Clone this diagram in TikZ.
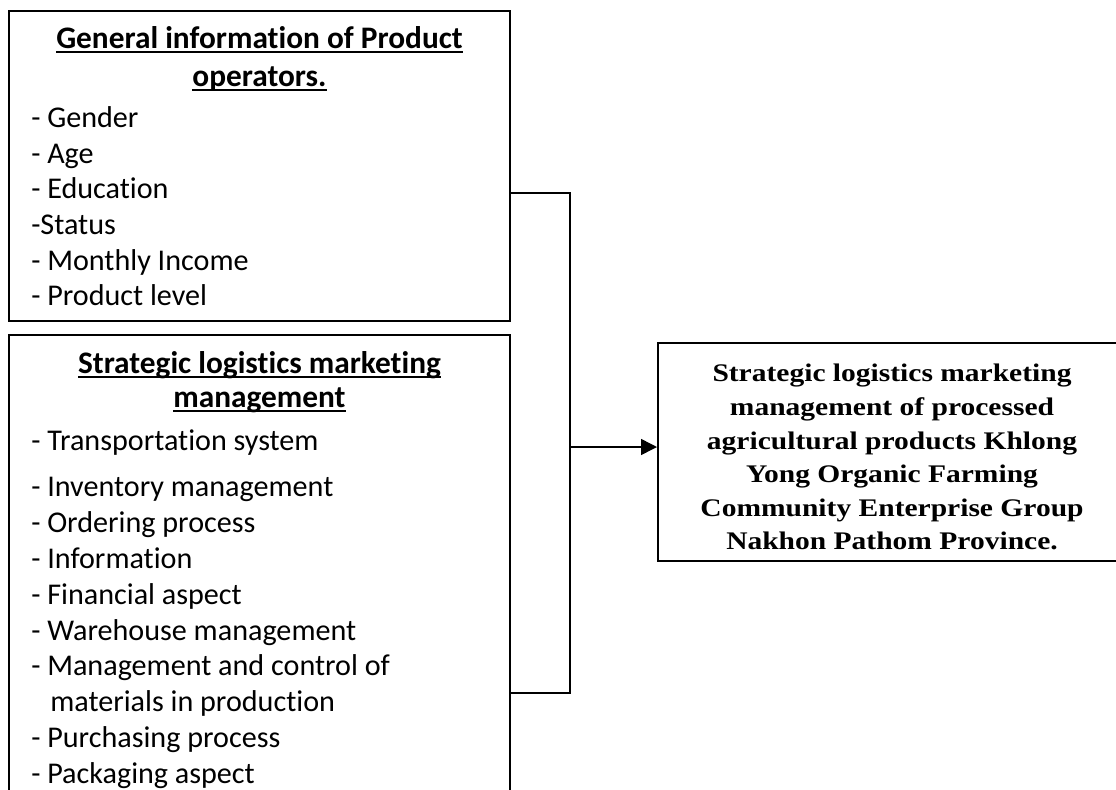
\documentclass[tikz,border=0pt]{standalone}
\usepackage{fontspec}
\setmainfont{Carlito}[Ligatures=NoCommon]
\newfontfamily\resfont[FakeStretch=1.165]{Liberation Serif}
\usetikzlibrary{arrows.meta,fit}

% underlined heading line
\newsavebox{\headbox}
\newcommand{\ulhead}[1]{\sbox{\headbox}{#1}\rlap{\rule[-3.7pt]{\wd\headbox}{1.4pt}}\usebox{\headbox}}

\tikzset{
	pbox/.style={draw, line width=1.5pt, inner sep=0pt},
	head/.style={anchor=base, inner sep=0pt, font=\fontsize{23.5}{27}\selectfont\bfseries},
	item/.style={anchor=base west, inner sep=0pt, font=\fontsize{22.6}{27}\selectfont},
	link/.style={line width=1.1pt},
}

\begin{document}
\begin{tikzpicture}[x=0.75pt,y=-0.75pt]
		\clip (0,0) rectangle (1116,789);
		% the three boxes
		\node[pbox, fit={(9,11) (510,321)}] (general) {};
		\node[pbox, fit={(9,335) (510,830)}] (strategy) {};
		\node[pbox, fit={(658,343) (1130,561)}] (result) {};
		
		\node[head] (genhead1) at (259.5,48) {\ulhead{General information of Product}};
		\node[head] (genhead2) at (259.5,86) {\ulhead{operators.}};
		\node[item] (gender) at (31,127) {- Gender};
		\node[item] (age) at (31,163) {- Age};
		\node[item] (education) at (31,198) {- Education};
		\node[item] (status) at (31,234) {-Status};
		\node[item] (income) at (31,270) {- Monthly Income};
		\node[item] (level) at (31,305) {- Product level};
		
		\node[head] (strathead1) at (259.5,373) {\ulhead{Strategic logistics marketing}};
		\node[head] (strathead2) at (259.5,407) {\ulhead{management}};
		\node[item] (transport) at (31,450) {- Transportation system};
		\node[item] (inventory) at (31,496) {- Inventory management};
		\node[item] (ordering) at (31,532) {- Ordering process};
		\node[item] (information) at (31,568) {- Information};
		\node[item] (financial) at (31,604) {- Financial aspect};
		\node[item] (warehouse) at (31,640) {- Warehouse management};
		\node[item] (control) at (31,675) {- Management and control of};
		\node[item] (materials) at (50,711) {materials in production};
		\node[item] (purchasing) at (31,747) {- Purchasing process};
		\node[item] (packaging) at (31,783) {- Packaging aspect};
		
		\node[anchor=north, inner sep=0pt, align=center, font=\resfont\bfseries\fontsize{19}{25.2}\selectfont] (restext) at (892,364)
		{Strategic logistics marketing\\ management of processed\\ agricultural products Khlong\\ Yong Organic Farming\\ Community Enterprise Group\\ Nakhon Pathom Province.};
		
		% joining lines and arrow
		\coordinate (jtop) at (570,193);
		\coordinate (jbot) at (570,693);
		\coordinate (jmid) at (570,447);
		\draw[link] (general.east |- jtop) -- (jtop) -- (jbot) -- (strategy.east |- jbot);
		\draw[link, -{Triangle[length=12pt,width=12pt]}] (jmid) -- (jmid -| result.west);
\end{tikzpicture}
\end{document}
